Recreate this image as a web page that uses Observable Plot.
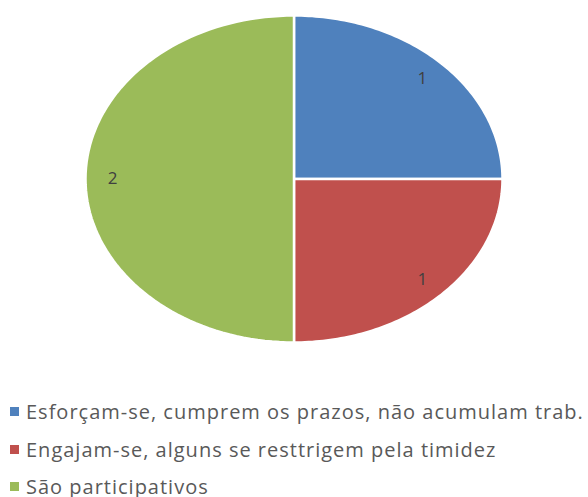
<!DOCTYPE html>
<html>
<head>
<meta charset="utf-8">
<script src="https://cdn.jsdelivr.net/npm/d3@7"></script>
<script src="https://cdn.jsdelivr.net/npm/@observablehq/plot@0.6"></script>
<style>
  body { margin: 0; background: #fff; width: 588px; height: 497px; overflow: hidden; font-family: "Open Sans", sans-serif; }
  #legend { padding-top: 3px; padding-left: 10px; }
  .item { height: 37.5px; line-height: 37.5px; white-space: nowrap; font-size: 20px; color: #595959; letter-spacing: 1px; }
  .sw { display: inline-block; width: 9px; height: 9px; margin-right: 7px; vertical-align: middle; position: relative; top: -2px; }
</style>
</head>
<body>
<div id="chart"></div>
<div id="legend"></div>
<script>
const categories = [
  "Esforçam-se, cumprem os prazos, não acumulam trab.",
  "Engajam-se, alguns se resttrigem pela timidez",
  "São participativos"
];
const values = [1, 1, 2];
const colors = ["#4F81BD", "#C0504D", "#9BBB59"];

const arcs = d3.pie().sort(null).value(d => d)(values);
const poly = [];
const labels = [];
arcs.forEach((a, i) => {
  poly.push({k: categories[i], x: 0, y: 0});
  const n = 90;
  for (let j = 0; j <= n; j++) {
    const t = a.startAngle + (a.endAngle - a.startAngle) * j / n;
    poly.push({k: categories[i], x: Math.sin(t), y: Math.cos(t)});
  }
  poly.push({k: categories[i], x: 0, y: 0});
  const m = (a.startAngle + a.endAngle) / 2;
  labels.push({x: 0.87 * Math.sin(m), y: 0.87 * Math.cos(m), text: String(values[i])});
});

const chart = Plot.plot({
  width: 588,
  height: 390,
  marginLeft: 85,
  marginRight: 86,
  marginTop: 15,
  marginBottom: 48,
  style: {fontFamily: "Open Sans"},
  x: {domain: [-1, 1], axis: null},
  y: {domain: [-1, 1], axis: null},
  color: {domain: categories, range: colors},
  marks: [
    Plot.line(poly, {x: "x", y: "y", z: "k", fill: "k", stroke: "white", strokeWidth: 2.5, curve: "linear-closed"}),
    Plot.text(labels, {x: "x", y: "y", text: "text", fill: "#404040", fontSize: 17})
  ]
});
document.getElementById("chart").appendChild(chart);

const leg = document.getElementById("legend");
categories.forEach((c, i) => {
  const d = document.createElement("div");
  d.className = "item";
  d.innerHTML = `<span class="sw" style="background:${colors[i]}"></span>`;
  d.appendChild(document.createTextNode(c));
  leg.appendChild(d);
});
</script>
</body>
</html>
